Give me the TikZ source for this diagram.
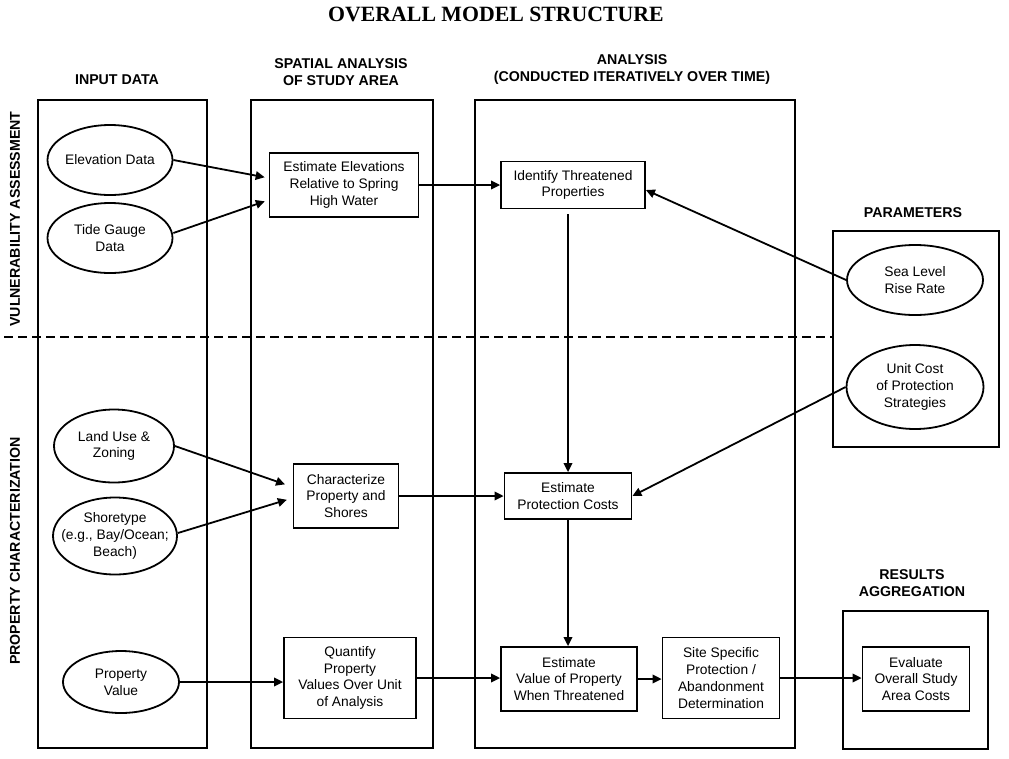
\documentclass[tikz,border=0pt]{standalone}
\usepackage{fontspec}
\setmainfont{Liberation Sans}
\newfontfamily\titlefont{Liberation Serif}
\usetikzlibrary{shapes.geometric}
\usetikzlibrary{arrows.meta}
\usetikzlibrary{positioning}
\tikzset{
% filled triangle tips as in the original chart
>={Triangle[length=9pt, width=8.5pt]}
}

\begin{document}
\begin{tikzpicture}[x=1pt, y=-1pt, line width=1.8pt,
  font=\fontsize{13.8}{16.8}\selectfont,
  colbox/.style={rectangle, draw, line width=1.9pt},
  procbox/.style={rectangle, draw, align=center, inner sep=0},
  datum/.style={ellipse, draw, inner sep=0},
  header/.style={align=center, font=\fontsize{14.2}{17}\selectfont\bfseries}]
  \useasboundingbox (0,0) rectangle (1009,758);

  \node[font=\titlefont\fontsize{21.8}{24}\selectfont\bfseries] (title) at (496,14) {OVERALL MODEL STRUCTURE};

  % columns
  \node[colbox, minimum width=169, minimum height=648] (inputcol) at (122.5,424) {};
  \node[colbox, minimum width=182, minimum height=648] (spatialcol) at (342,424) {};
  \node[colbox, minimum width=320, minimum height=648] (analysiscol) at (635,424) {};
  \node[colbox, minimum width=166, minimum height=216] (paramcol) at (916,339) {};
  \node[colbox, minimum width=145, minimum height=138] (resultcol) at (915.5,680) {};

  \node[header] (inputhead) at (117,80) {INPUT DATA};
  \node[header] (spatialhead) at (341,72) {SPATIAL ANALYSIS\\OF STUDY AREA};
  \node[header] (analysishead) at (632,70) {ANALYSIS\\(CONDUCTED ITERATIVELY OVER TIME)};
  \node[header] (paramhead) at (913,213) {PARAMETERS};
  \node[header] (resulthead) at (912,583) {RESULTS\\AGGREGATION};

  \node[header, rotate=90] (vulnlabel) at (15,219) {VULNERABILITY ASSESSMENT};
  \node[header, rotate=90] (proplabel) at (15,551) {PROPERTY CHARACTERIZATION};

  % split between the two parts
  \coordinate (dashstart) at (4,337);
  \draw[dash pattern=on 9pt off 5pt] (dashstart) -- (dashstart -| paramcol.west);

  % input data
  \node[datum, minimum width=125, minimum height=70,
    label={[align=center]center:Elevation Data}] (elev) at (110,160) {};
  \node[datum, minimum width=125, minimum height=70,
    label={[align=center]center:{Tide Gauge\\Data}}] (tide) at (110,238) {};
  \node[datum, minimum width=120, minimum height=73,
    label={[align=center]center:{Land Use \&\\Zoning}}] (landuse) at (114,446) {};
  \node[datum, minimum width=124, minimum height=77,
    label={[align=center]center:{Shoretype\\(e.g., Bay/Ocean;\\Beach)}}] (shore) at (115,536) {};
  \node[datum, minimum width=116, minimum height=62,
    label={[align=center]center:{Property\\Value}}] (propval) at (121,682) {};

  % parameters
  \node[datum, minimum width=136, minimum height=70,
    label={[align=center]center:{Sea Level\\Rise Rate}}] (sealevel) at (915,280) {};
  \node[datum, minimum width=137, minimum height=84,
    label={[align=center]center:{Unit Cost\\of Protection\\Strategies}}] (unitcost) at (915,387) {};

  % processing steps
  \node[procbox, minimum width=149, minimum height=64] (estelev) at (344,185) {Estimate Elevations\\Relative to Spring\\High Water};
  \node[procbox, minimum width=144, minimum height=47] (identify) at (573,185) {Identify Threatened\\Properties};
  \node[procbox, minimum width=105, minimum height=64] (charact) at (346,496) {Characterize\\Property and\\Shores};
  \node[procbox, minimum width=127, minimum height=46] (protect) at (568,496) {Estimate\\Protection Costs};
  \node[procbox, minimum width=132, minimum height=81] (quantify) at (350,678) {Quantify\\Property\\Values Over Unit\\of Analysis};
  \node[procbox, minimum width=136, minimum height=64] (estvalue) at (569,679) {Estimate\\Value of Property\\When Threatened};
  \node[procbox, minimum width=117, minimum height=81] (sitespec) at (721,678) {Site Specific\\Protection /\\Abandonment\\Determination};
  \node[procbox, minimum width=107, minimum height=64] (evaluate) at (916,679) {Evaluate\\Overall Study\\Area Costs};

  % flows
  \draw[->, shorten >=4pt] (elev.east) -- ([yshift=7pt]estelev.west);
  \draw[->, shorten >=4pt] ([yshift=5pt]tide.east) -- ([yshift=-15pt]estelev.west);
  \draw[->] (estelev.east) -- (estelev.east -| identify.west);
  \draw[->] (sealevel.west) -- ([yshift=-5pt]identify.east);
  \draw[->, shorten <=5pt] (identify.south -| protect.north) -- (protect.north);
  \draw[->] (unitcost.west) -- (protect.east);
  \draw[->, shorten >=8pt] (landuse.east) -- ([yshift=9pt]charact.west);
  \draw[->, shorten >=6pt] ([yshift=3pt]shore.east) -- ([yshift=-2pt]charact.west);
  \draw[->] (charact.east) -- (charact.east -| protect.west);
  \draw[->] (protect.south) -- (protect.south |- estvalue.north);
  \draw[->] (propval.east) -- (propval.east -| quantify.west);
  \draw[->] (quantify.east) -- (quantify.east -| estvalue.west);
  \draw[->] (estvalue.east) -- (estvalue.east -| sitespec.west);
  \draw[->] (sitespec.east) -- (sitespec.east -| evaluate.west);
\end{tikzpicture}
\end{document}
